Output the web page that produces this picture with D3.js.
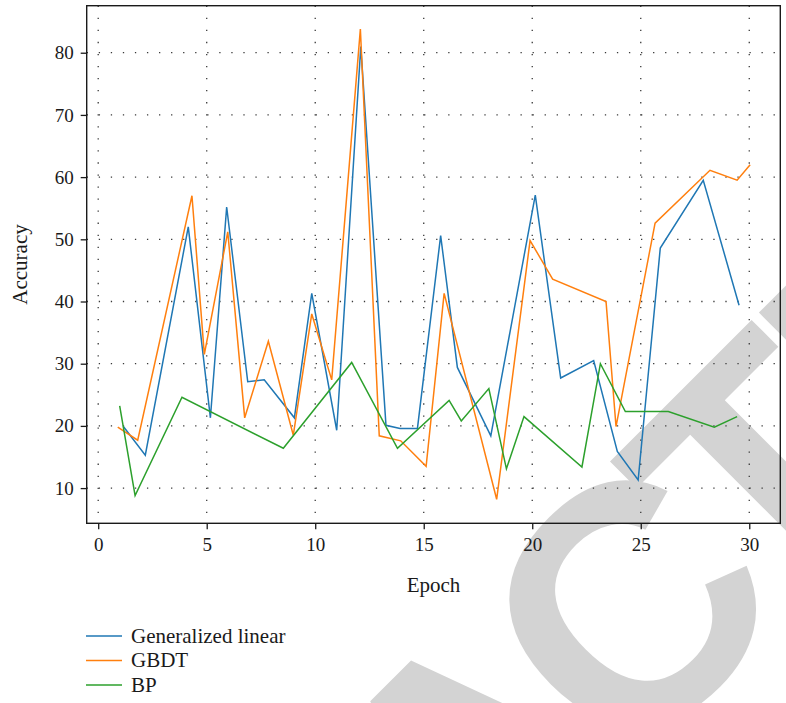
<!DOCTYPE html>
<html lang="en">
<head>
<meta charset="utf-8">
<title>Accuracy by epoch</title>
<script src="https://d3js.org/d3.v7.min.js"></script>
<style>
  body { margin: 0; background: #fff; }
  svg text { font-family: "Liberation Serif", "DejaVu Serif", serif; fill: #1a1a1a; }
  .grid line { stroke: #3a3a3a; stroke-width: 1.3; stroke-dasharray: 1.3, 10.75; }
  .axis path, .axis line { stroke: #1a1a1a; stroke-width: 1.3; }
  .series { fill: none; stroke-width: 1.5; stroke-linejoin: miter; }
</style>
</head>
<body>
<svg id="chart" width="786" height="703"></svg>
<script>
// series
const seriesNames = ["Generalized linear", "GBDT", "BP"];
const seriesColors = ["#1f77b4", "#ff7f0e", "#2ca02c"];

const glEpoch = [1.16, 2.17, 4.15, 5.17, 5.92, 6.89, 7.65, 9.04, 9.84, 10.99, 12.1, 13.26, 13.91, 14.71, 15.78, 16.55, 18.09, 20.14, 21.31, 22.83, 23.92, 24.88, 25.90, 27.88, 29.53];
const glAcc   = [19.9, 15.3, 52.0, 21.3, 55.2, 27.1, 27.4, 21.3, 41.3, 19.3, 81.0, 20.1, 19.6, 19.6, 50.6, 29.4, 18.4, 57.1, 27.7, 30.5, 15.9, 11.3, 48.6, 59.5, 39.4];

const gbdtEpoch = [0.90, 1.82, 4.32, 4.89, 5.97, 6.75, 7.84, 8.99, 9.84, 10.76, 12.08, 12.95, 13.94, 15.11, 15.94, 18.36, 19.90, 20.94, 23.40, 23.86, 25.66, 28.19, 29.44, 30.04];
const gbdtAcc   = [19.8, 17.7, 57.0, 31.5, 51.2, 21.3, 33.6, 18.5, 38.0, 27.4, 83.8, 18.4, 17.6, 13.5, 41.3, 8.2, 49.8, 43.6, 40.0, 19.9, 52.6, 61.1, 59.5, 62.0];

const bpEpoch = [0.99, 1.70, 3.86, 8.53, 11.68, 13.79, 16.17, 16.73, 18.00, 18.81, 19.62, 22.29, 23.14, 24.29, 26.27, 28.39, 29.44];
const bpAcc   = [23.2, 8.8, 24.6, 16.4, 30.2, 16.4, 24.1, 20.8, 26.0, 13.1, 21.5, 13.4, 30.0, 22.3, 22.3, 19.8, 21.5];

const xTicks = [0, 5, 10, 15, 20, 25, 30];
const yTicks = [10, 20, 30, 40, 50, 60, 70, 80];

const svg = d3.select("#chart");
const margin = {left: 86.7, top: 5.7, right: 786 - 780.3, bottom: 703 - 523.3};
const width = 786 - margin.left - margin.right;
const height = 703 - margin.top - margin.bottom;

// watermark behind everything
const wmSize = 340;
const wm = svg.append("text")
    .text("RETRACTED")
    .attr("dx", "0 0 0 0 0 -10 -20 0 0")
    .style("font-family", "'Liberation Sans', Arial, sans-serif")
    .style("font-weight", "bold")
    .style("font-size", wmSize + "px")
    .style("letter-spacing", "-16px")
    .style("fill", "#d3d3d3");
// place the second T so its crossbar top centre sits at (674, 384), rotated -45deg
const node = wm.node();
const tStart = node.getStartPositionOfChar(6).x;
const tMid = tStart + 0.611 * wmSize / 2;
const cap = 0.716 * wmSize;
const c = Math.SQRT1_2;
const ox = 674 - (tMid * c - cap * c);
const oy = 384 - (-tMid * c - cap * c);
wm.attr("transform", `translate(${ox},${oy}) rotate(-45)`);

const g = svg.append("g").attr("transform", `translate(${margin.left},${margin.top})`);

const x = d3.scaleLinear().domain([-0.53, 31.43]).range([0, width]);
const y = d3.scaleLinear().domain([4.34, 87.56]).range([height, 0]);

// dotted grid
g.append("g").attr("class", "grid")
  .selectAll("line").data(yTicks).join("line")
    .attr("x1", 0).attr("x2", width)
    .attr("y1", d => y(d)).attr("y2", d => y(d));
g.append("g").attr("class", "grid")
  .selectAll("line").data(xTicks).join("line")
    .attr("y1", 0).attr("y2", height)
    .attr("x1", d => x(d)).attr("x2", d => x(d));

// lines
const line = d3.line().x(d => x(d[0])).y(d => y(d[1]));
const allSeries = [
  d3.zip(glEpoch, glAcc),
  d3.zip(gbdtEpoch, gbdtAcc),
  d3.zip(bpEpoch, bpAcc)
];
g.selectAll("path.series").data(allSeries).join("path")
    .attr("class", "series")
    .attr("stroke", (d, i) => seriesColors[i])
    .attr("d", line);

// frame
g.append("rect").attr("width", width).attr("height", height)
    .attr("fill", "none").attr("stroke", "#1a1a1a").attr("stroke-width", 1.4);

// axes
const xAxis = g.append("g").attr("class", "axis")
    .attr("transform", `translate(0,${height})`)
    .call(d3.axisBottom(x).tickValues(xTicks).tickSize(6).tickPadding(8));
const yAxis = g.append("g").attr("class", "axis")
    .call(d3.axisLeft(y).tickValues(yTicks).tickSize(6).tickPadding(7));
xAxis.select(".domain").remove();
yAxis.select(".domain").remove();
g.selectAll(".axis text").style("font-size", "19px").style("font-family", "'Liberation Serif', serif").attr("fill", "#1a1a1a");

// axis titles
svg.append("text")
    .attr("x", margin.left + width / 2).attr("y", 592)
    .attr("text-anchor", "middle").style("font-size", "21px")
    .text("Epoch");
svg.append("text")
    .attr("transform", `translate(27,${margin.top + height / 2}) rotate(-90)`)
    .attr("text-anchor", "middle").style("font-size", "21px")
    .text("Accuracy");

// legend
const legend = svg.append("g").selectAll("g").data(seriesNames).join("g")
    .attr("transform", (d, i) => `translate(86,${636 + i * 24.5})`);
legend.append("line").attr("x1", 0).attr("x2", 36)
    .attr("stroke", (d, i) => seriesColors[i]).attr("stroke-width", 1.5);
legend.append("text").attr("x", 45).attr("y", 6.5)
    .style("font-size", "21px").text(d => d);
</script>
</body>
</html>
